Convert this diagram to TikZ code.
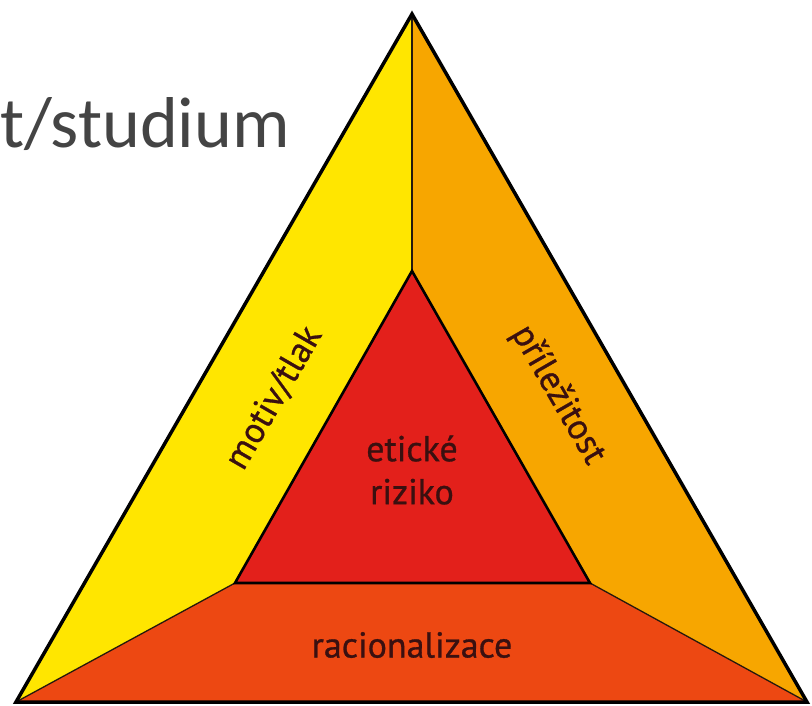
\documentclass[tikz,border=0pt]{standalone}
\usepackage{fontspec}
\setmainfont{PT Sans}
\newfontfamily\lblfont[FakeBold=0.8]{PT Sans}
\newfontfamily\titlefont{Carlito}
\definecolor{cyel}{HTML}{FFE600}
\definecolor{corg}{HTML}{F7A600}
\definecolor{cred}{HTML}{E3201B}
\definecolor{cbot}{HTML}{ED4812}
\definecolor{ctxt}{HTML}{3A1010}
\definecolor{cgray}{HTML}{444444}
\tikzset{
  lbl/.style={text=ctxt, font=\lblfont\fontsize{36}{43}\selectfont, inner sep=0pt, align=center},
  outerline/.style={draw=black, line width=3.5pt, line join=miter},
  innerline/.style={draw=black, line width=2.6pt, line join=miter},
  spoke/.style={draw=black!80!brown, line width=1.3pt}
}
\begin{document}
\begin{tikzpicture}[x=1pt,y=-1pt]
\useasboundingbox (0,0) rectangle (812,706);
\fill[white] (0,0) rectangle (812,706);
\coordinate (A) at (412,14);
\coordinate (B) at (16,702);
\coordinate (C) at (807,702);
\coordinate (a) at (412,271);
\coordinate (b) at (235,583);
\coordinate (c) at (590,583);
\fill[cyel] (A) -- (B) -- (b) -- (a) -- cycle;
\fill[corg] (A) -- (C) -- (c) -- (a) -- cycle;
\fill[cbot] (B) -- (C) -- (c) -- (b) -- cycle;
\fill[cred] (a) -- (b) -- (c) -- cycle;
\draw[spoke] (A) -- (a);
\draw[spoke] (B) -- (b);
\draw[spoke] (C) -- (c);
\draw[innerline] (a) -- (b) -- (c) -- cycle;
\draw[outerline] (A) -- (B) -- (C) -- cycle;
\node[lbl, rotate=60] (motiv) at (274,398) {motiv/tlak};
\node[lbl, rotate=-60] (prilez) at (558,395) {příležitost};
\node[lbl] (etic) at (412,470) {etické\\riziko};
\node[lbl] (rac) at (412,645) {racionalizace};
\node[anchor=base east, text=cgray, inner sep=0pt, font=\titlefont\fontsize{72}{80}\selectfont] (stud) at (290,148) {t/studium};
\end{tikzpicture}
\end{document}
